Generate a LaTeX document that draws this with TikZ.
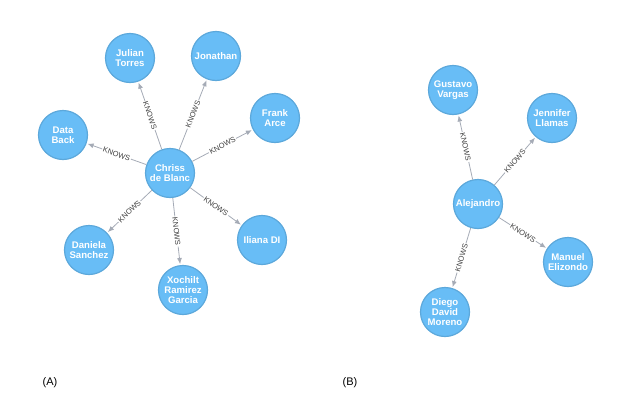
\documentclass[tikz,border=0pt]{standalone}
\usepackage{fontspec}
\setmainfont{Liberation Sans}
\usetikzlibrary{arrows.meta}

\definecolor{nodeblue}{HTML}{68BDF6}
\definecolor{nodeline}{HTML}{5CA8DB}
\definecolor{relgray}{HTML}{A5ABB6}

\begin{document}
\begin{tikzpicture}[x = 1pt, y = -1pt,
  person/.style = {circle, fill = nodeblue, draw = nodeline, line width = 1.2pt, minimum size = 49pt, inner sep = 0pt, align = center, text = white, font = \fontsize{9.6}{10}\selectfont\bfseries},
  knows/.style = {draw = relgray, line width = 0.8pt, -{Latex[length = 6pt, width = 5pt]}, shorten > = 1pt},
  rel/.style = {midway, sloped, fill = white, inner sep = 1pt, text = black!75, font = \fontsize{7.5}{8}\selectfont}]
\useasboundingbox (0,0) rectangle (634,407);

% (A)
\node[person] (chriss) at (170,173) {Chriss\\de Blanc};
\node[person] (julian) at (130,58) {Julian\\Torres};
\node[person] (jonathan) at (216,56) {Jonathan};
\node[person] (frank) at (275,118) {Frank\\Arce};
\node[person] (data) at (63,135) {Data\\Back};
\node[person] (daniela) at (89,250) {Daniela\\Sanchez};
\node[person] (xochilt) at (183,290) {Xochilt\\Ramirez\\Garcia};
\node[person] (iliana) at (262,240) {Iliana DI};

\foreach \who in {julian, jonathan, frank, data, daniela, xochilt, iliana}
  \draw[knows] (chriss) -- (\who) node[rel] {KNOWS};

% (B)
\node[person] (alejandro) at (478,204) {Alejandro};
\node[person] (gustavo) at (453,90) {Gustavo\\Vargas};
\node[person] (jennifer) at (552,118) {Jennifer\\Llamas};
\node[person] (manuel) at (568,262) {Manuel\\Elizondo};
\node[person] (diego) at (445,312) {Diego\\David\\Moreno};

\foreach \who in {gustavo, jennifer, manuel, diego}
  \draw[knows] (alejandro) -- (\who) node[rel] {KNOWS};

\node[font = \fontsize{11}{12}\selectfont] (capA) at (50,383) {(A)};
\node[font = \fontsize{11}{12}\selectfont] (capB) at (350,383) {(B)};
\end{tikzpicture}
\end{document}
